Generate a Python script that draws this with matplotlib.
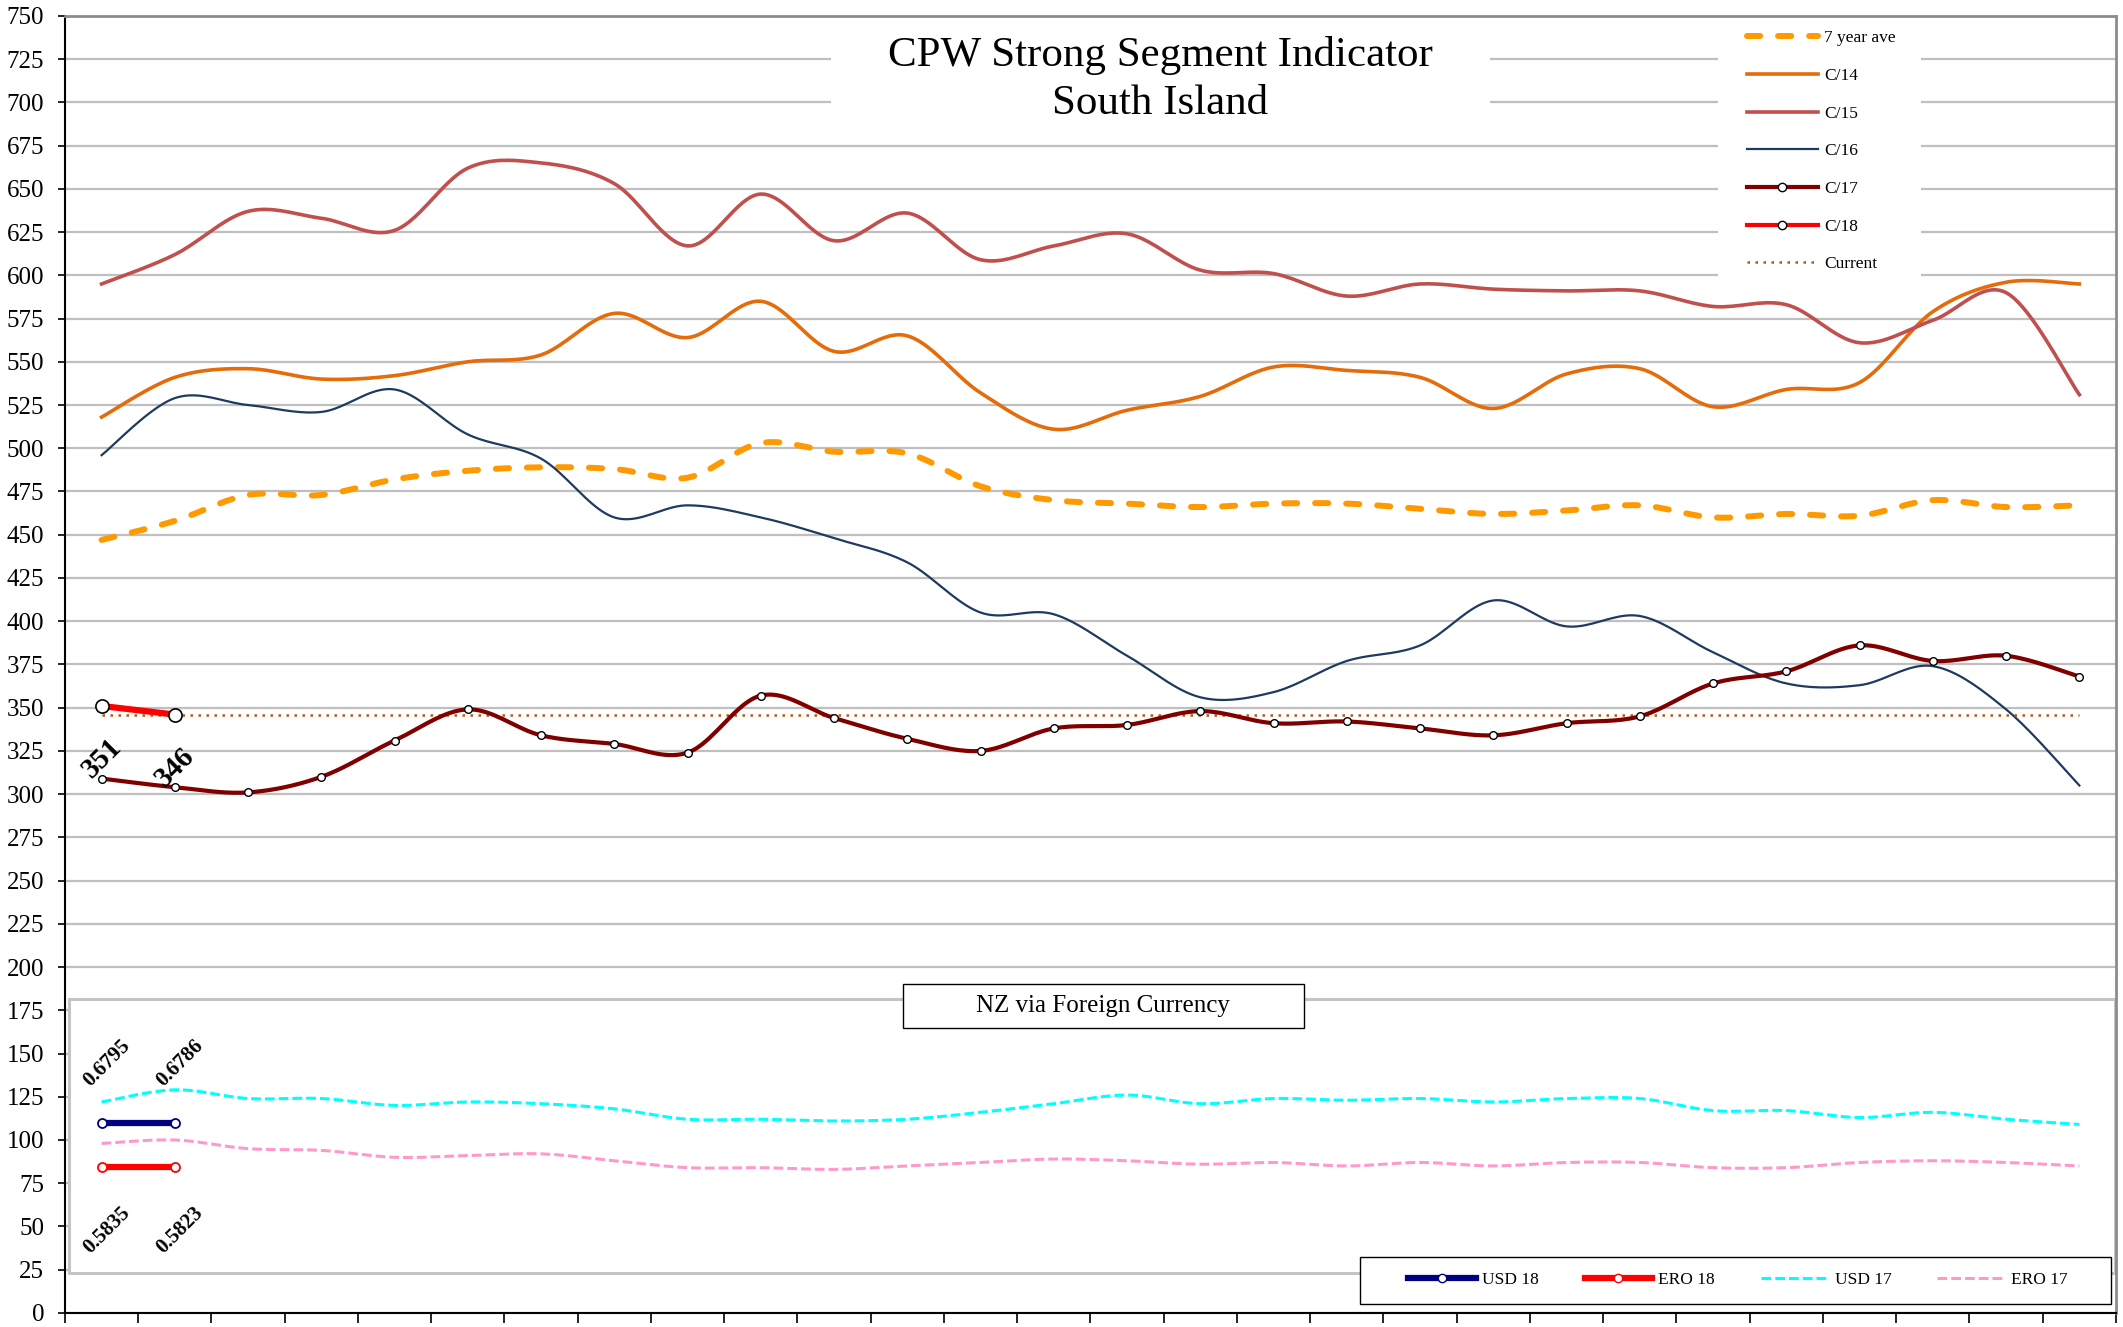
import numpy as np
import matplotlib
matplotlib.use("Agg")
import matplotlib.pyplot as plt
from matplotlib.lines import Line2D
from matplotlib.patches import Rectangle

plt.rcParams['font.family'] = ['Liberation Serif', 'DejaVu Serif']

# --- data (28 weeks) ---
weeks = list(range(28))
seven_year = [447, 458, 473, 473, 482, 487, 489, 488, 483, 503, 498, 497, 478, 470,
              468, 466, 468, 468, 465, 462, 464, 467, 460, 462, 461, 470, 466, 467]
c14 = [518, 541, 546, 540, 542, 550, 554, 578, 564, 585, 556, 565, 532, 511,
       522, 530, 547, 545, 541, 523, 543, 546, 524, 534, 538, 579, 596, 595]
c15 = [595, 612, 637, 633, 626, 662, 665, 653, 617, 647, 620, 636, 609, 617,
       624, 603, 601, 588, 595, 592, 591, 591, 582, 583, 561, 574, 590, 531]
c16 = [496, 529, 525, 521, 534, 508, 494, 460, 467, 460, 448, 434, 405, 404,
       380, 356, 359, 377, 386, 412, 397, 403, 382, 364, 363, 374, 349, 305]
c17 = [309, 304, 301, 310, 331, 349, 334, 329, 324, 357, 344, 332, 325, 338,
       340, 348, 341, 342, 338, 334, 341, 345, 364, 371, 386, 377, 380, 368]
c18 = [351, 346]
current = 346

usd17 = [122, 129, 124, 124, 120, 122, 121, 118, 112, 112, 111, 112, 116, 121,
         126, 121, 124, 123, 124, 122, 124, 124, 117, 117, 113, 116, 112, 109]
ero17 = [98, 100, 95, 94, 90, 91, 92, 88, 84, 84, 83, 85, 87, 89,
         88, 86, 87, 85, 87, 85, 87, 87, 84, 84, 87, 88, 87, 85]
usd18 = [110, 110]
ero18 = [84.5, 84.5]
usd18_labels = ["0.6795", "0.6786"]
ero18_labels = ["0.5835", "0.5823"]


def smooth(xs, ys, n=20):
    # Excel-style smoothed line (Bezier through the points)
    x = np.asarray(xs, float)
    y = np.asarray(ys, float)
    if len(x) < 3:
        return x, y
    px = np.concatenate([[x[0]], x, [x[-1]]])
    py = np.concatenate([[y[0]], y, [y[-1]]])
    ox, oy = [], []
    for i in range(len(x) - 1):
        p0 = np.array([px[i], py[i]])
        p1 = np.array([px[i + 1], py[i + 1]])
        p2 = np.array([px[i + 2], py[i + 2]])
        p3 = np.array([px[i + 3], py[i + 3]])
        c1 = p1 + (p2 - p0) / 6
        c2 = p2 - (p3 - p1) / 6
        t = np.linspace(0, 1, n, endpoint=(i == len(x) - 2))[:, None]
        b = ((1 - t) ** 3) * p1 + 3 * ((1 - t) ** 2) * t * c1 + 3 * (1 - t) * t ** 2 * c2 + t ** 3 * p2
        ox.extend(b[:, 0])
        oy.extend(b[:, 1])
    return np.array(ox), np.array(oy)


fig = plt.figure(figsize=(21.23, 13.27), dpi=100)
ax = fig.add_axes([0.0306, 0.0106, 0.9661, 0.9774])

ax.set_xlim(-0.5, 27.5)
ax.set_ylim(0, 750)
ax.set_yticks(np.arange(0, 751, 25))
ax.set_xticks(np.arange(-0.5, 28, 1))
ax.set_xticklabels([])
ax.tick_params(axis='y', labelsize=18, length=5, width=1.2, direction='out', pad=10)
ax.tick_params(axis='x', length=7, width=1.2, direction='out')
ax.yaxis.grid(True, color='#BFBFBF', linewidth=1.6)
ax.set_axisbelow(True)
for s in ['left', 'bottom']:
    ax.spines[s].set_color('black')
    ax.spines[s].set_linewidth(1.5)
for s in ['top', 'right']:
    ax.spines[s].set_color('#8C8C8C')
    ax.spines[s].set_linewidth(2)

# white boxes behind title / legend, and the currency inset
ax.add_patch(Rectangle((0.3735, 0.916), 0.3213, 0.09, transform=ax.transAxes,
                       facecolor='white', edgecolor='none', zorder=1))
ax.add_patch(Rectangle((0.806, 0.791), 0.099, 0.21, transform=ax.transAxes,
                       facecolor='white', edgecolor='none', zorder=1))
ax.add_patch(Rectangle((-0.445, 23.1), 27.93, 158.5, facecolor='white',
                       edgecolor='#C4C4C4', linewidth=2.2, zorder=1))

# main series
x, y = smooth(weeks, seven_year)
ax.plot(x, y, color='#FF9900', linewidth=4.3, dashes=(2.2, 3.0),
        dash_capstyle='round', zorder=3)
x, y = smooth(weeks, c14)
ax.plot(x, y, color='#E46C0A', linewidth=2.6, zorder=3)
x, y = smooth(weeks, c15)
ax.plot(x, y, color='#C0504D', linewidth=2.6, zorder=3)
x, y = smooth(weeks, c16)
ax.plot(x, y, color='#1F3A60', linewidth=1.6, zorder=3)
x, y = smooth(weeks, c17)
ax.plot(x, y, color='#800000', linewidth=3.0, zorder=4)
ax.plot(weeks, c17, linestyle='none', marker='o', markersize=5.5,
        markerfacecolor='white', markeredgecolor='black', markeredgewidth=1.0, zorder=5)
ax.plot(weeks, [current] * len(weeks), color='#B5570F', linewidth=1.8,
        linestyle=(0, (1, 2.2)), zorder=3)
ax.plot(weeks[:len(c18)], c18, color='#FF0000', linewidth=4.5, zorder=5)
ax.plot(weeks[:len(c18)], c18, linestyle='none', marker='o', markersize=9.5,
        markerfacecolor='white', markeredgecolor='black', markeredgewidth=1.2, zorder=6)
for i, v in enumerate(c18):
    ax.annotate(str(v), (weeks[i], v), xytext=(0, -38), textcoords='offset points',
                ha='center', va='center', rotation=45, fontsize=21,
                fontweight='bold', zorder=6)

# currency panel
x, y = smooth(weeks, usd17)
ax.plot(x, y, color='#00FFFF', linewidth=2.2, dashes=(3.2, 1.3), zorder=3)
x, y = smooth(weeks, ero17)
ax.plot(x, y, color='#FF99CC', linewidth=2.2, dashes=(3.2, 1.3), zorder=3)
ax.plot(weeks[:2], usd18, color='#000080', linewidth=4.5, marker='o', markersize=6.5,
        markerfacecolor='white', markeredgecolor='#000080', markeredgewidth=1.3, zorder=5)
ax.plot(weeks[:2], ero18, color='#FF0000', linewidth=4.5, marker='o', markersize=6.5,
        markerfacecolor='white', markeredgecolor='#FF0000', markeredgewidth=1.3, zorder=5)
for i, lab in enumerate(usd18_labels):
    ax.annotate(lab, (weeks[i], usd18[i]), xytext=(4, 43), textcoords='offset points',
                ha='center', va='center', rotation=45, fontsize=15,
                fontweight='bold', zorder=6)
for i, lab in enumerate(ero18_labels):
    ax.annotate(lab, (weeks[i], ero18[i]), xytext=(4, -46), textcoords='offset points',
                ha='center', va='center', rotation=45, fontsize=15,
                fontweight='bold', zorder=6)

ax.add_patch(Rectangle((0.4086, 0.2197), 0.1955, 0.034, transform=ax.transAxes,
                       facecolor='white', edgecolor='black', linewidth=1.0, zorder=6))
ax.text(0.5063, 0.2367, "NZ via Foreign Currency", transform=ax.transAxes,
        ha='center', va='center', fontsize=18, zorder=7)

# title
ax.text(0.534, 0.951, "CPW Strong Segment Indicator\nSouth Island", transform=ax.transAxes,
        ha='center', va='center', fontsize=31, linespacing=1.3, zorder=7)

# legends
top_handles = [
    Line2D([], [], color='#FF9900', linewidth=4.3, dashes=(2.2, 3.0), dash_capstyle='round'),
    Line2D([], [], color='#E46C0A', linewidth=2.6),
    Line2D([], [], color='#C0504D', linewidth=2.6),
    Line2D([], [], color='#1F3A60', linewidth=1.6),
    Line2D([], [], color='#800000', linewidth=3.0, marker='o', markersize=6,
           markerfacecolor='white', markeredgecolor='black'),
    Line2D([], [], color='#FF0000', linewidth=3.0, marker='o', markersize=6,
           markerfacecolor='white', markeredgecolor='black'),
    Line2D([], [], color='#B5570F', linewidth=1.8, linestyle=(0, (1, 2.2))),
]
top_labels = ["7 year ave", "C/14", "C/15", "C/16", "C/17", "C/18", "Current"]
leg1 = ax.legend(top_handles, top_labels, loc='upper left', bbox_to_anchor=(0.820, 0.989),
                 frameon=False, fontsize=12.5, handlelength=4.1, handletextpad=0.35,
                 labelspacing=1.24, borderpad=0, borderaxespad=0, numpoints=1)
leg1.set_zorder(7)
ax.add_artist(leg1)

# currency legend: frame drawn as its own box
ax.add_patch(Rectangle((0.6314, 0.0069), 0.3662, 0.0362, transform=ax.transAxes,
                       facecolor='white', edgecolor='black', linewidth=1.0, zorder=6))
bot_handles = [
    Line2D([], [], color='#000080', linewidth=4.5, marker='o', markersize=6,
           markerfacecolor='white', markeredgecolor='#000080'),
    Line2D([], [], color='#FF0000', linewidth=4.5, marker='o', markersize=6,
           markerfacecolor='white', markeredgecolor='#FF0000'),
    Line2D([], [], color='#00FFFF', linewidth=2.2, dashes=(3.2, 1.3)),
    Line2D([], [], color='#FF99CC', linewidth=2.2, dashes=(3.2, 1.3)),
]
bot_labels = ["USD 18", "ERO 18", "USD 17", "ERO 17"]
leg2 = ax.legend(bot_handles, bot_labels, loc='center left',
                 bbox_to_anchor=(0.6548, 0.0254), ncol=4, fontsize=12.5,
                 handlelength=3.9, handletextpad=0.35, columnspacing=2.65,
                 frameon=False, borderpad=0, borderaxespad=0, numpoints=1)
leg2.set_zorder(7)

fig.savefig("out.png", dpi=100)
